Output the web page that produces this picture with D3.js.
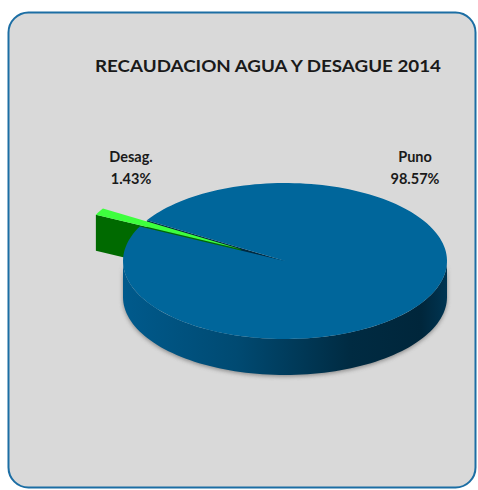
<!DOCTYPE html>
<html>
<head>
<meta charset="utf-8">
<script src="https://cdn.jsdelivr.net/npm/d3@7"></script>
<style>
  html, body { margin: 0; padding: 0; background: #ffffff; }
  svg { display: block; }
</style>
</head>
<body>
<div id="main"></div>
<script>
// chart data
const categories = ["Puno", "Desag."]
const values = [98.57, 1.43]
const labelText = ["98.57%", "1.43%"]
const title = "RECAUDACION AGUA Y DESAGUE 2014"

const width = 478
const height = 490

// 3d pie geometry
const cx = 285, cy = 261
const rx = 162, ry = 78
const depth = 36
const explode = [0, 0.31]
const rad = Math.PI / 180
const startDeg = 301.5

const topColors = ["#00669b", "#3dff3d"]
const sideColors = ["#003a58", "#006a00"]

const svg = d3.select("#main").append("svg")
  .attr("width", width)
  .attr("height", height)

const defs = svg.append("defs")
const grad = defs.append("linearGradient")
  .attr("id", "sideGrad")
  .attr("x1", "0").attr("x2", "1").attr("y1", "0").attr("y2", "0")
grad.append("stop").attr("offset", "0%").attr("stop-color", "#005a8c")
grad.append("stop").attr("offset", "35%").attr("stop-color", "#004a72")
grad.append("stop").attr("offset", "70%").attr("stop-color", "#002b42")
grad.append("stop").attr("offset", "92%").attr("stop-color", "#00263b")
grad.append("stop").attr("offset", "100%").attr("stop-color", "#003552")

defs.append("filter").attr("id", "blur")
  .attr("x", "-10%").attr("y", "-10%").attr("width", "120%").attr("height", "130%")
  .append("feGaussianBlur").attr("stdDeviation", 2)

// background frame
svg.append("rect")
  .attr("x", 8.5).attr("y", 12.5)
  .attr("width", 467).attr("height", 475)
  .attr("rx", 20).attr("ry", 20)
  .attr("fill", "#d9d9d9")
  .attr("stroke", "#1c6ea4")
  .attr("stroke-width", 2)

svg.append("text")
  .attr("x", 268).attr("y", 72)
  .attr("text-anchor", "middle")
  .attr("font-family", "Lato, 'Open Sans', sans-serif")
  .attr("font-weight", "bold")
  .attr("font-size", 17)
  .attr("textLength", 346)
  .attr("lengthAdjust", "spacingAndGlyphs")
  .attr("fill", "#1a1a1a")
  .text(title)

const pie = d3.pie().sort(null)
  .startAngle(startDeg * rad)
  .endAngle(startDeg * rad + 2 * Math.PI)

const slices = pie(values).map((d, i) => {
  const mid = (d.startAngle + d.endAngle) / 2
  return {
    ...d,
    name: categories[i],
    ox: explode[i] * rx * Math.sin(mid),
    oy: -explode[i] * ry * Math.cos(mid)
  }
})

// point on the rim (angle clockwise from 12 o'clock)
function pt(s, a, r, dz) {
  return [cx + s.ox + r * rx * Math.sin(a), cy + s.oy - r * ry * Math.cos(a) + dz]
}
function rimPts(s, a0, a1, dz) {
  const n = Math.max(2, Math.ceil(Math.abs(a1 - a0) / (rad * 2)))
  return d3.range(n + 1).map(k => pt(s, a0 + (a1 - a0) * k / n, 1, dz))
}
const line = d3.line()

function topPath(s) {
  return line([pt(s, 0, 0, 0), ...rimPts(s, s.startAngle, s.endAngle, 0)]) + "Z"
}
function radialPath(s, a) {
  return line([pt(s, a, 0, 0), pt(s, a, 1, 0), pt(s, a, 1, depth), pt(s, a, 0, depth)]) + "Z"
}
function outerPath(s) {
  // only the front half of the rim faces the viewer
  let a0 = Math.max(s.startAngle, 90 * rad)
  let a1 = Math.min(s.endAngle, 270 * rad)
  if (s.startAngle > 270 * rad) { a0 = Math.max(s.startAngle, 450 * rad); a1 = Math.min(s.endAngle, 630 * rad) }
  if (a1 <= a0) return null
  const up = rimPts(s, a0, a1, 0)
  const down = rimPts(s, a1, a0, depth)
  return line([...up, ...down]) + "Z"
}

const puno = slices[0]
const desag = slices[1]

// soft shadow under the base
svg.append("path")
  .attr("d", outerPath({ ...puno, ox: 0, oy: 1.5 }))
  .attr("fill", "#555")
  .attr("opacity", 0.6)
  .attr("filter", "url(#blur)")

// inner gap faces of the big slice
svg.selectAll("path.gap")
  .data([puno.startAngle, puno.endAngle])
  .enter().append("path")
  .attr("class", "gap")
  .attr("d", a => radialPath(puno, a))
  .attr("fill", "#002a40")

// exploded small slice
svg.append("path")
  .attr("d", radialPath(desag, desag.startAngle))
  .attr("fill", sideColors[1])
svg.append("path")
  .attr("d", topPath(desag))
  .attr("fill", topColors[1])

// big slice
const outer = outerPath(puno)
svg.append("path")
  .attr("d", outer)
  .attr("fill", "url(#sideGrad)")
svg.append("path")
  .attr("d", topPath(puno))
  .attr("fill", topColors[0])

// labels
const labelPos = [[415, 162], [131, 162]]
const labels = svg.selectAll("g.label")
  .data(slices)
  .enter().append("g")
  .attr("class", "label")
  .attr("transform", (d, i) => `translate(${labelPos[i][0]},${labelPos[i][1]})`)
  .attr("font-family", "Lato, 'Open Sans', sans-serif")
  .attr("font-weight", "bold")
  .attr("font-size", 14.5)
  .attr("fill", "#1a1a1a")
  .attr("text-anchor", "middle")
labels.append("text").text(d => d.name)
labels.append("text").attr("y", 22).text((d, i) => labelText[i])
</script>
</body>
</html>
